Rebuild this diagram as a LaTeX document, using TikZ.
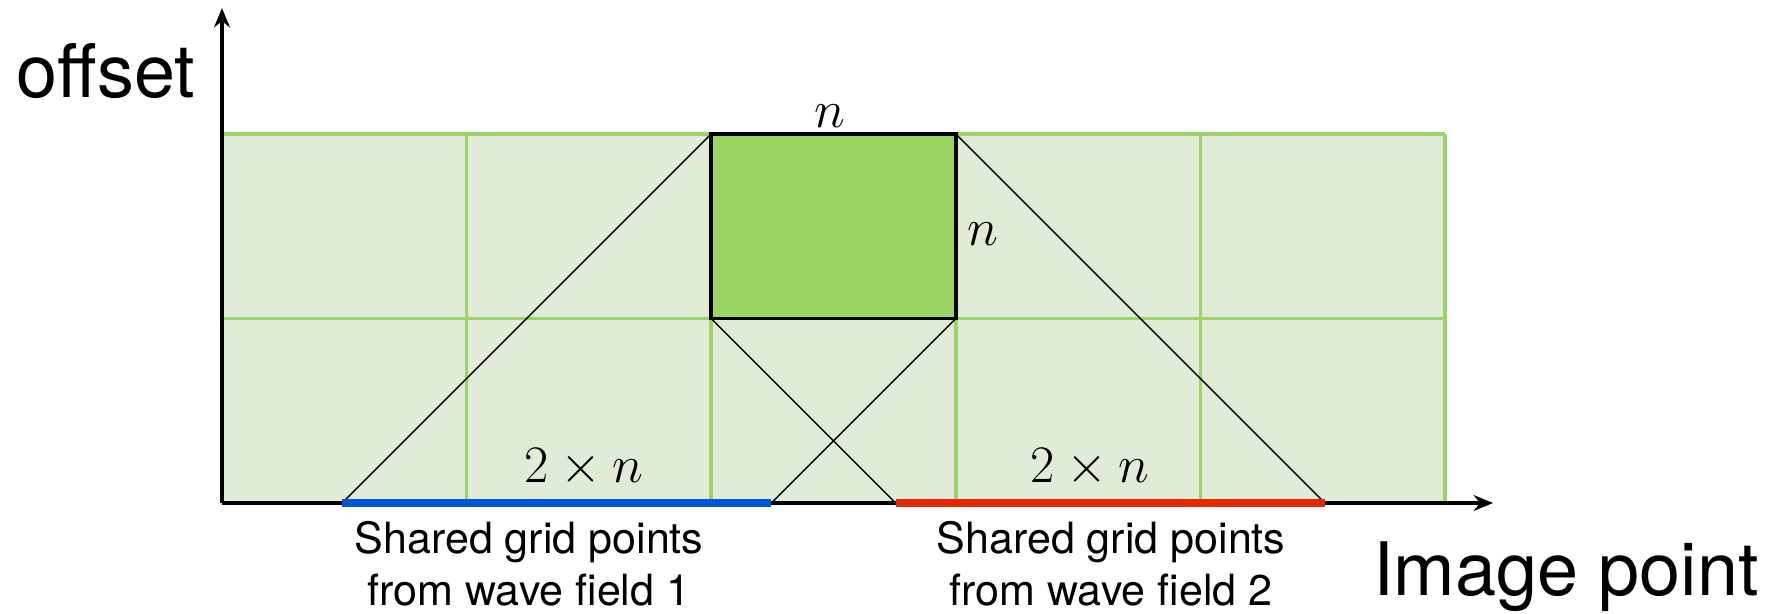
\RequirePackage{fix-cm}
\documentclass[tikz,border=0pt]{standalone}
\usepackage{fontspec}
\setmainfont{TeX Gyre Heros}
\usepackage{tikz}
\usetikzlibrary{positioning,arrows.meta}

\definecolor{cellfill}{HTML}{E0ECD6}
\definecolor{cellline}{HTML}{9BD46A}
\definecolor{boxfill}{HTML}{9AD563}
\definecolor{fieldone}{HTML}{0057D6}
\definecolor{fieldtwo}{HTML}{E22800}

\begin{document}
\begin{tikzpicture}[
    x=0.02cm, y=0.02cm,
    gridline/.style={draw=cellline, line width=2pt},
    axis/.style={-{Stealth[length=11pt,width=9pt]}, line width=1.8pt},
    ray/.style={line width=0.8pt},
    shared/.style={line width=4.5pt},
    biglabel/.style={font=\fontsize{42}{48}\selectfont, anchor=base},
    sharedlabel/.style={font=\fontsize{24.5}{29.6}\selectfont, align=center, anchor=base},
    mathlabel/.style={font=\fontsize{30}{36}\selectfont, anchor=base}
]
\useasboundingbox (-222,-110) rectangle (1568,503);

% grid of cells
\fill[cellfill] (0,0) rectangle (1223,369);
\foreach \gx in {0,244.6,489.2,733.8,978.4,1223}
    \draw[gridline] (\gx,0) -- (\gx,369);
\foreach \gy in {0,184.5,369}
    \draw[gridline] (0,\gy) -- (1223,\gy);

% central cell
\coordinate (c1) at (489.2,184.5);
\coordinate (c2) at (733.8,184.5);
\coordinate (c3) at (733.8,369);
\coordinate (c4) at (489.2,369);
\filldraw[fill=boxfill, draw=black, line width=2.2pt] (c1) rectangle (c3);

% feet on the image axis
\coordinate (f1) at (120.2,0);
\coordinate (f2) at (549.3,0);
\coordinate (f3) at (673.7,0);
\coordinate (f4) at (1102.8,0);

\draw[ray] (c4) -- (f1);
\draw[ray] (c2) -- (f2);
\draw[ray] (c1) -- (f3);
\draw[ray] (c3) -- (f4);

% axes
\coordinate (o) at (0,0);
\coordinate (ytip) at (0,495);
\coordinate (xtip) at (1271,0);
\draw[axis] (o) -- (ytip);
\draw[axis] (o) -- (xtip);

\draw[shared, fieldone] (f1) -- (f2);
\draw[shared, fieldtwo] (f3) -- (f4);

% labels
\node[biglabel] (offset) at (-116,406) {offset};
\node[biglabel] (image) at (1344,-92) {Image point};
\node[sharedlabel] (share1) at (307,-102) {Shared grid points\\from wave field 1};
\node[sharedlabel] (share2) at (889,-102) {Shared grid points\\from wave field 2};
\node[mathlabel] (len1) at (362,21) {$2\times n$};
\node[mathlabel] (len2) at (868,21) {$2\times n$};
\node[mathlabel] (ntop) at (608,376) {$n$};
\node[mathlabel] (nside) at (761,258) {$n$};
\end{tikzpicture}
\end{document}
